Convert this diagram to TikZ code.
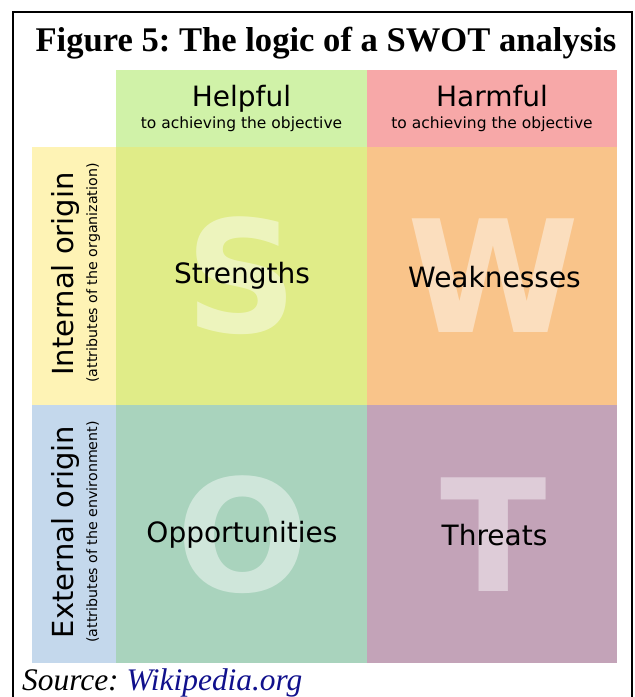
\documentclass[tikz,border=0pt]{standalone}
\usepackage{fontspec}
\setmainfont{Liberation Serif}
\newfontfamily\swotfont{DejaVu Sans}
\frenchspacing

\definecolor{helpgreen}{RGB}{208,242,168}
\definecolor{harmred}{RGB}{247,168,168}
\definecolor{intyellow}{RGB}{254,243,181}
\definecolor{extblue}{RGB}{196,216,236}
\definecolor{strcol}{RGB}{224,236,136}
\definecolor{weakcol}{RGB}{249,196,138}
\definecolor{oppcol}{RGB}{169,211,189}
\definecolor{thrcol}{RGB}{195,163,184}
\definecolor{wikiblue}{RGB}{16,16,140}

\tikzset{
  cell/.style={rectangle, inner sep=0pt, minimum width=251pt, minimum height=258pt},
  headcell/.style={rectangle, inner sep=0pt, minimum width=251pt, minimum height=77pt},
  sidecell/.style={rectangle, inner sep=0pt, minimum width=84pt, minimum height=258pt},
  bigletter/.style={text=white, text opacity=0.45, inner sep=0pt,
    font=\swotfont\bfseries\fontsize{156}{160}\selectfont},
  celltext/.style={anchor=base, inner sep=0pt, font=\swotfont\fontsize{28}{32}\selectfont},
  subtext/.style={anchor=base, inner sep=0pt, font=\swotfont\fontsize{15.5}{18}\selectfont},
  sidetext/.style={anchor=base, inner sep=0pt, rotate=90, font=\swotfont\fontsize{29}{32}\selectfont},
  sidesub/.style={anchor=base, inner sep=0pt, rotate=90, font=\swotfont\fontsize{14.2}{16}\selectfont},
}

\begin{document}
\begin{tikzpicture}[x=1pt, y=-1pt]
    \useasboundingbox (0,0) rectangle (635,697);

    % frame and title
    \draw[line width=2.8pt] (13,710) -- (13,12) -- (632,12) -- (632,710);
    \node[anchor=base, inner sep=0pt, font=\bfseries\fontsize{34.6}{40}\selectfont] (title) at (326,51) {Figure 5: The logic of a SWOT analysis};

    % headers
    \node[headcell, fill=helpgreen] (helpful) at (241.5,108.5) {};
    \node[headcell, fill=harmred, minimum width=250pt] (harmful) at (492,108.5) {};
    \node[sidecell, fill=intyellow] (internal) at (74,276) {};
    \node[sidecell, fill=extblue] (external) at (74,534) {};

    % the four fields
    \node[cell, fill=strcol] (strengths) at (241.5,276) {};
    \node[cell, fill=weakcol, minimum width=250pt] (weaknesses) at (492,276) {};
    \node[cell, fill=oppcol] (opportunities) at (241.5,534) {};
    \node[cell, fill=thrcol, minimum width=250pt] (threats) at (492,534) {};

    \node[bigletter] (bigS) at (242,276) {S};
    \node[bigletter] (bigW) at (493.5,276) {W};
    \node[bigletter] (bigO) at (242.5,534.5) {O};
    \node[bigletter] (bigT) at (494,534.5) {T};

    \node[celltext] (helpfultxt) at (241.5,106) {Helpful};
    \node[subtext] (helpfulsub) at (241.5,128) {to achieving the objective};
    \node[celltext] (harmfultxt) at (492,106) {Harmful};
    \node[subtext] (harmfulsub) at (492,128) {to achieving the objective};

    \node[sidetext] (internaltxt) at (73,274) {Internal origin};
    \node[sidesub] (internalsub) at (97,273) {(attributes of the organization)};
    \node[sidetext] (externaltxt) at (73,532) {External origin};
    \node[sidesub] (externalsub) at (97,532) {(attributes of the environment)};

    \node[celltext] (strtxt) at (242,283) {Strengths};
    \node[celltext] (weaktxt) at (494.5,287) {Weaknesses};
    \node[celltext] (opptxt) at (242,542) {Opportunities};
    \node[celltext] (thrtxt) at (494.5,545) {Threats};

    % source line
    \node[anchor=base west, inner sep=0pt, font=\itshape\fontsize{31.4}{36}\selectfont] (source) at (22,690) {Source: \textcolor{wikiblue}{Wikipedia.org}};

\end{tikzpicture}
\end{document}
